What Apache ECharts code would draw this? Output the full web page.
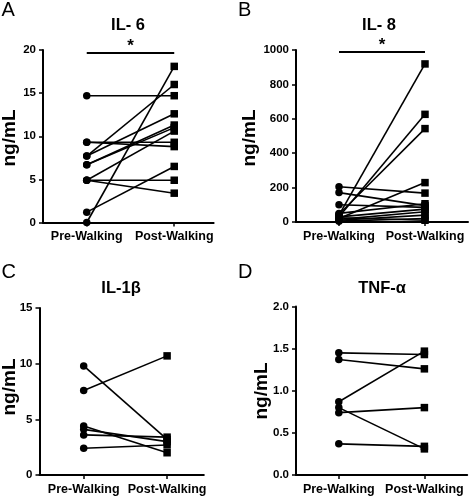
<!DOCTYPE html>
<html>
<head>
<meta charset="utf-8">
<script src="https://cdn.jsdelivr.net/npm/echarts@6/dist/echarts.min.js"></script>
<style>
html,body{margin:0;padding:0;background:#fff;}
#chart{width:472px;height:496px;}
</style>
</head>
<body>
<div id="chart"></div>
<script>
// ---- data ----
const timepoints = ['Pre-Walking', 'Post-Walking'];

const il6Pre  = [14.7, 0.0, 7.7, 7.7, 9.3, 9.3, 6.7, 6.7, 4.9, 4.9, 4.9, 1.2];
const il6Post = [14.7, 18.1, 16.0, 12.6, 9.3, 8.8, 11.3, 11.0, 10.6, 4.9, 3.4, 6.5];

const il8Pre  = [205, 171, 100, 40, 30, 45, 20, 50, 30, 15, 10, 5, 25];
const il8Post = [168, 95, 85, 919, 626, 543, 229, 106, 75, 60, 40, 20, 10];

const il1bPre  = [9.8, 7.6, 4.4, 4.1, 3.6, 2.4];
const il1bPost = [3.2, 10.7, 2.0, 3.0, 3.4, 2.7];

const tnfPre  = [1.45, 1.37, 0.87, 0.74, 0.80, 0.37];
const tnfPost = [1.43, 1.26, 1.47, 0.80, 0.31, 0.34];

const il6Ticks  = [0, 20, 5];
const il8Ticks  = [0, 1000, 200];
const il1bTicks = [0, 15, 5];
const tnfTicks  = [0, 2, 0.5];

const sigIL6 = 19.73;
const sigIL8 = 988;

// ---- layout ----
const FONT = '"Liberation Sans", Arial, sans-serif';
const panels = [
  {pre: il6Pre, post: il6Post, ticks: il6Ticks, dec: 0, grid: {left: 43, top: 50, width: 170.6, height: 172.5}, xmin: 0.5, xmax: 2.45, sig: sigIL6},
  {pre: il8Pre, post: il8Post, ticks: il8Ticks, dec: 0, grid: {left: 296, top: 50, width: 172, height: 172}, xmin: 0.5, xmax: 2.5, sig: sigIL8},
  {pre: il1bPre, post: il1bPost, ticks: il1bTicks, dec: 0, grid: {left: 39.5, top: 308, width: 164.3, height: 167.7}, xmin: 0.47, xmax: 2.44},
  {pre: tnfPre, post: tnfPost, ticks: tnfTicks, dec: 1, grid: {left: 296, top: 306.5, width: 171.2, height: 169.2}, xmin: 0.5, xmax: 2.5}
];

const grids = [], xAxes = [], yAxes = [], series = [];
panels.forEach((p, i) => {
  grids.push(Object.assign({containLabel: false}, p.grid));
  xAxes.push({
    type: 'value', gridIndex: i, min: p.xmin, max: p.xmax,
    splitLine: {show: false},
    axisLine: {show: true, onZero: false, lineStyle: {color: '#000', width: 2}},
    axisTick: {show: true, customValues: [1, 2], length: 4, lineStyle: {color: '#000', width: 1.5}},
    axisLabel: {show: true, customValues: [1, 2], formatter: v => timepoints[Math.round(v) - 1],
      color: '#000', fontWeight: 'bold', fontSize: 12.5, fontFamily: FONT, margin: 8}
  });
  yAxes.push({
    type: 'value', gridIndex: i, min: p.ticks[0], max: p.ticks[1], interval: p.ticks[2],
    splitLine: {show: false},
    axisLine: {show: true, onZero: false, lineStyle: {color: '#000', width: 2}},
    axisTick: {show: true, length: 4, lineStyle: {color: '#000', width: 1.5}},
    axisLabel: {color: '#000', fontWeight: 'bold', fontSize: 11.5, fontFamily: FONT, margin: 7,
      formatter: v => v.toFixed(p.dec)}
  });
  p.pre.forEach((pv, k) => {
    const s = {
      type: 'line', xAxisIndex: i, yAxisIndex: i, silent: true, animation: false,
      lineStyle: {color: '#000', width: 1.6},
      itemStyle: {color: '#000'},
      symbolSize: 7.5,
      data: [
        {value: [1, pv], symbol: 'circle', symbolSize: 7.5},
        {value: [2, p.post[k]], symbol: 'rect', symbolSize: 7.5}
      ],
      z: 3
    };
    if (k === 0 && p.sig !== undefined) {
      s.markLine = {
        silent: true, symbol: 'none', animation: false,
        lineStyle: {color: '#000', width: 2.2, type: 'solid'},
        label: {show: true, position: 'middle', formatter: '*', color: '#000',
          fontSize: 17, fontWeight: 'bold', fontFamily: FONT, distance: -2},
        data: [[{coord: [1, p.sig]}, {coord: [2, p.sig]}]]
      };
    }
    series.push(s);
  });
});

const titleDefs = [
  {text: 'IL- 6', x: 128, y: 25},
  {text: 'IL- 8', x: 379, y: 25},
  {text: 'IL-1β', x: 121, y: 288},
  {text: 'TNF-α', x: 382, y: 288}
];
const letterDefs = [
  {text: 'A', x: 1.5, y: 10.5},
  {text: 'B', x: 238, y: 10.5},
  {text: 'C', x: 1.5, y: 272},
  {text: 'D', x: 238, y: 272}
];
const ylabDefs = [
  {x: 10, y: 138}, {x: 250, y: 138}, {x: 9.5, y: 387}, {x: 261.5, y: 391}
];

const graphics = [];
titleDefs.forEach(t => graphics.push({type: 'text', x: t.x, y: t.y,
  style: {text: t.text, fill: '#000', font: 'bold 16.5px ' + FONT, textAlign: 'center', textVerticalAlign: 'middle'}}));
letterDefs.forEach(t => graphics.push({type: 'text', x: t.x, y: t.y,
  style: {text: t.text, fill: '#000', font: '20px ' + FONT, textAlign: 'left', textVerticalAlign: 'middle'}}));
ylabDefs.forEach(t => graphics.push({type: 'text', x: t.x, y: t.y, rotation: Math.PI / 2,
  style: {text: 'ng/mL', fill: '#000', font: 'bold 19px ' + FONT, textAlign: 'center', textVerticalAlign: 'middle'}}));

const chart = echarts.init(document.getElementById('chart'), null, {renderer: 'canvas'});
chart.setOption({
  animation: false,
  backgroundColor: '#fff',
  grid: grids, xAxis: xAxes, yAxis: yAxes, series: series,
  graphic: graphics
});
</script>
</body>
</html>
